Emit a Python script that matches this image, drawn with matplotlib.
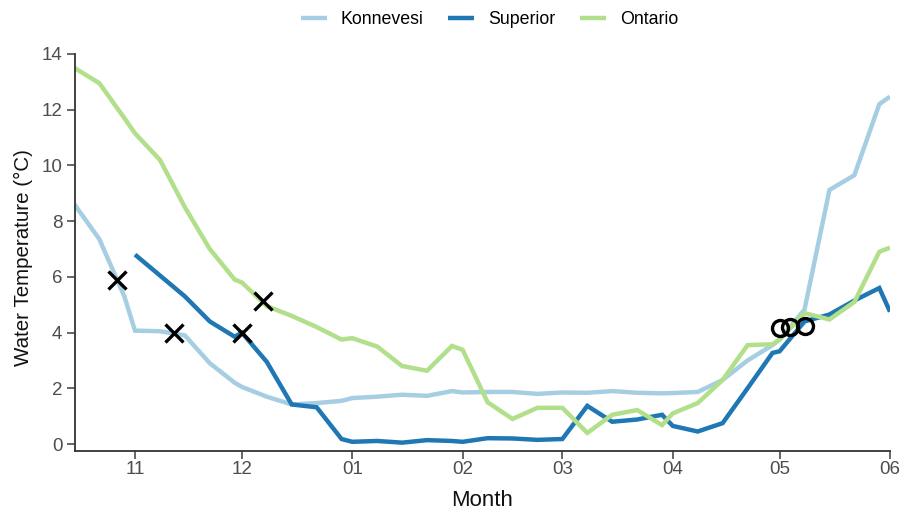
import matplotlib
matplotlib.use("Agg")
import matplotlib.pyplot as plt

plt.rcParams['font.family'] = ['Liberation Sans', 'DejaVu Sans']

# days since 1 November
days = [-17, -10, -3, 0, 7, 14, 21, 28, 30, 37, 44, 51, 58, 61, 68, 75, 82, 89, 92,
        99, 106, 113, 120, 127, 134, 141, 148, 151, 158, 165, 172, 179, 181, 188,
        195, 202, 209, 212]
konnevesi = [8.6, 7.35, 5.3, 4.07, 4.05, 3.9, 2.9, 2.2, 2.05, 1.7, 1.42, 1.47, 1.55,
             1.65, 1.7, 1.77, 1.73, 1.9, 1.85, 1.87, 1.87, 1.8, 1.85, 1.84, 1.9, 1.84,
             1.82, 1.83, 1.87, 2.3, 3.0, 3.55, 3.75, 4.83, 9.12, 9.65, 12.2, 12.47]
superior = [None, None, None, 6.8, 6.05, 5.3, 4.4, 3.85, 4.0, 2.95, 1.42, 1.32, 0.18,
            0.08, 0.11, 0.05, 0.14, 0.11, 0.08, 0.21, 0.2, 0.15, 0.18, 1.37, 0.8, 0.88,
            1.05, 0.65, 0.45, 0.75, 2.0, 3.27, 3.33, 4.4, 4.65, 5.15, 5.6, 4.75]
ontario = [13.5, 12.95, 11.7, 11.15, 10.2, 8.5, 7.0, 5.9, 5.8, 4.95, 4.6, 4.2, 3.75,
           3.8, 3.5, 2.8, 2.63, 3.52, 3.38, 1.5, 0.9, 1.3, 1.3, 0.4, 1.05, 1.22, 0.68,
           1.1, 1.47, 2.3, 3.55, 3.58, 3.75, 4.7, 4.47, 5.1, 6.9, 7.05]
names = ['Konnevesi', 'Superior', 'Ontario']
colors = ['#a6cee3', '#1f78b4', '#b2df8a']

x_days = [-5, 11, 30, 36]
x_temps = [5.9, 4.0, 4.0, 5.15]
o_days = [181, 184, 188]
o_temps = [4.17, 4.2, 4.25]

month_ticks = [0, 30, 61, 92, 120, 151, 181, 212]
month_labels = ['11', '12', '01', '02', '03', '04', '05', '06']
y_ticks = [0, 2, 4, 6, 8, 10, 12, 14]

fig = plt.figure(figsize=(9.03, 5.09), dpi=100)
ax = fig.add_axes([75 / 903, 1 - 451 / 509, (890 - 75) / 903, (451 - 54) / 509])

for vals, name, c in zip([konnevesi, superior, ontario], names, colors):
    xs = [d for d, v in zip(days, vals) if v is not None]
    ys = [v for v in vals if v is not None]
    ax.plot(xs, ys, color=c, lw=3.2, label=name, solid_joinstyle='miter', solid_capstyle='butt')

ax.plot(x_days, x_temps, ls='none', marker='x', ms=12.5, mew=2.4, color='black', zorder=5)
ax.plot(o_days, o_temps, ls='none', marker='o', ms=11.5, mew=2.4, mfc='none', color='black', zorder=5)

ax.set_xlim(-16.85, 212)
ax.set_ylim(-0.25, 14)
ax.set_xticks(month_ticks)
ax.set_xticklabels(month_labels)
ax.set_yticks(y_ticks)
ax.tick_params(axis='both', labelsize=13.5, colors='#4d4d4d', length=6, width=1.2)
ax.tick_params(axis='x', pad=1)
ax.tick_params(axis='y', pad=3)
for s in ['top', 'right']:
    ax.spines[s].set_visible(False)
for s in ['left', 'bottom']:
    ax.spines[s].set_color('#333333')
    ax.spines[s].set_linewidth(1.3)
ax.set_xlabel('Month', fontsize=16, color='#111111', labelpad=8.5)
ax.set_ylabel('Water Temperature (°C)', fontsize=14.8, color='#111111', labelpad=6, y=0.487)

fig.legend(*ax.get_legend_handles_labels(), loc='upper center', ncol=3, frameon=False,
           bbox_to_anchor=(489.5 / 903, 1.010), fontsize=12.8, handlelength=1.45,
           columnspacing=1.37, handletextpad=0.8)

fig.savefig('out.png', dpi=100)
